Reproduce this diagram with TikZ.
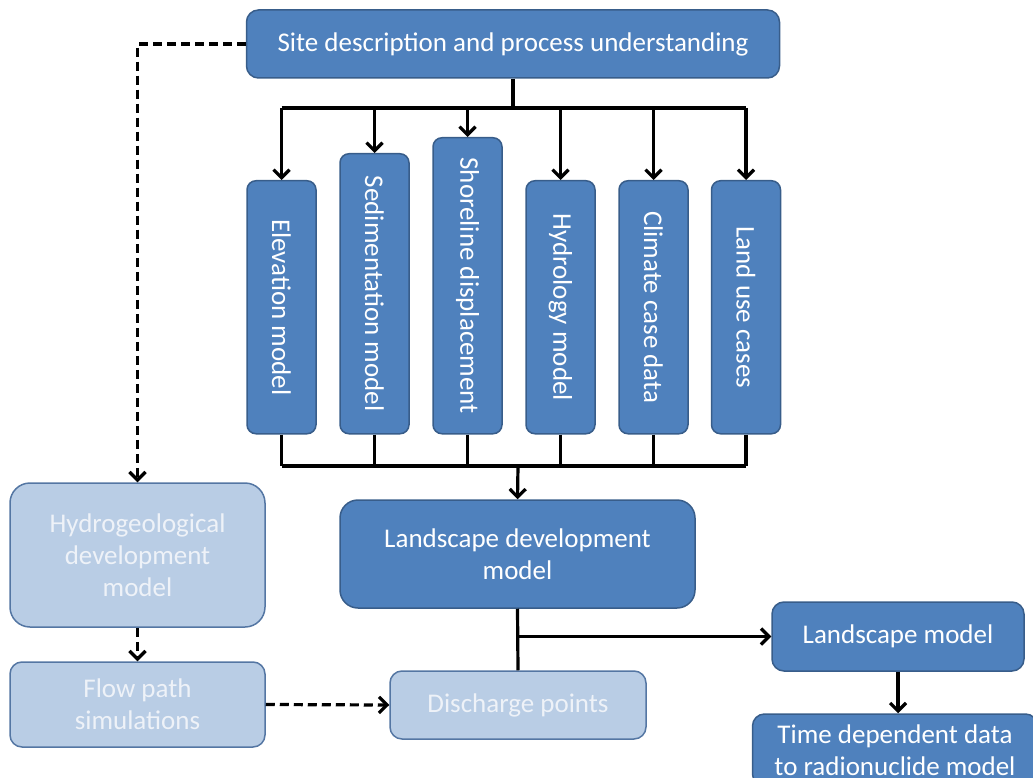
\documentclass[tikz,border=0pt]{standalone}
\usepackage{fontspec}
\setmainfont{Carlito}
\usepackage{xcolor}
\usetikzlibrary{arrows.meta, positioning}

\definecolor{darkfill}{RGB}{79,129,189}
\definecolor{darkline}{RGB}{56,93,138}
\definecolor{lightfill}{RGB}{185,205,229}
\definecolor{lightline}{RGB}{84,118,163}
\definecolor{lighttext}{RGB}{238,242,248}

\tikzset{
    darkbox/.style={rectangle, rounded corners=12pt, draw=darkline, line width=1.5pt, fill=darkfill, text=white, align=center, font=\fontsize{27}{32}\selectfont},
    lightbox/.style={darkbox, draw=lightline, fill=lightfill, text=lighttext},
    stripbox/.style={darkbox, rounded corners=9pt, minimum height=69pt, rotate=-90, anchor=west},
    arr/.style={line width=3.2pt, -{Straight Barb[length=8pt, width=16pt, line width=3.2pt]}},
    conn/.style={line width=3.2pt},
    dasharr/.style={arr, dash pattern=on 9pt off 5pt}
}

\begin{document}
\begin{tikzpicture}[x=1pt, y=-1pt]
    \useasboundingbox (0,0) rectangle (1033,778);
        % Define blocks
        \node (site) [darkbox, minimum width=533pt, minimum height=68pt] at (513,44) {Site description and process understanding};
        \node (elev) [stripbox, minimum width=253pt] at (281.5,180) {Elevation model};
        \node (sedi) [stripbox, minimum width=280pt] at (374.5,153) {Sedimentation model};
        \node (shore) [stripbox, minimum width=296pt] at (467.5,137) {Shoreline displacement};
        \node (hydro) [stripbox, minimum width=253pt] at (560.5,180) {Hydrology model};
        \node (climate) [stripbox, minimum width=253pt] at (653.5,180) {Climate case data};
        \node (landuse) [stripbox, minimum width=253pt] at (746,180) {Land use cases};
        \node (landdev) [darkbox, minimum width=355pt, minimum height=108pt, rounded corners=18pt] at (517.5,554) {Landscape development\\model};
        \node (hydgeo) [lightbox, minimum width=255pt, minimum height=144pt, rounded corners=20pt] at (137.5,555) {Hydrogeological\\development\\model};
        \node (flowpath) [lightbox, minimum width=255pt, minimum height=85pt] at (137.5,704.5) {Flow path\\simulations};
        \node (discharge) [lightbox, minimum width=256pt, minimum height=68pt] at (518,705) {Discharge points};
        \node (landmod) [darkbox, minimum width=252pt, minimum height=69pt] at (898,636.5) {Landscape model};
        \node (timedata) [darkbox, minimum width=285pt, minimum height=72pt] at (895,750) {Time dependent data\\to radionuclide model};

        \coordinate (topbus) at (513,108);
        \coordinate (botbus) at (518,466);

        % Draw arrows
        \draw[conn] (site.south) -- (topbus);
        \draw[conn] (elev.west |- topbus) -- (landuse.west |- topbus);
        \foreach \n in {elev, sedi, shore, hydro, climate, landuse}
            \draw[arr] (\n.west |- topbus) -- (\n.west);
        \foreach \n in {elev, sedi, shore, hydro, climate, landuse}
            \draw[conn] (\n.east) -- (\n.east |- botbus);
        \draw[conn] (elev.east |- botbus) -- (landuse.east |- botbus);
        \draw[arr] (botbus) -- (landdev.north);
        \draw[conn] (landdev.south) -- (discharge.north);
        \draw[arr] (landdev.south |- landmod.west) -- (landmod.west);
        \draw[arr] (landmod.south) -- (landmod.south |- timedata.north);
        \draw[dasharr] (site.west) -| (hydgeo.north);
        \draw[dasharr] (hydgeo.south) -- (flowpath.north);
        \draw[dasharr] (flowpath.east) -- (discharge.west);

    \end{tikzpicture}
\end{document}
